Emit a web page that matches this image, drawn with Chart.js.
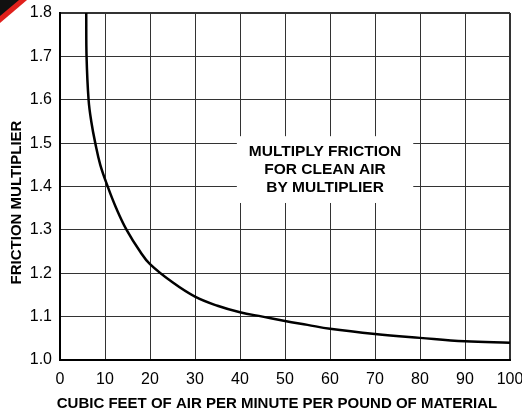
<!DOCTYPE html>
<html>
<head>
<meta charset="utf-8">
<script src="https://cdn.jsdelivr.net/npm/chart.js@4.4.1/dist/chart.umd.min.js"></script>
<style>
  html, body { margin: 0; padding: 0; background: #fff; }
  #wrap { width: 522px; height: 414px; position: relative; }
</style>
</head>
<body>
<div id="wrap"><canvas id="chart"></canvas></div>
<script>
// air volume (cfm per lb of material) vs friction multiplier
const airFlow = [5.83, 5.9, 6.35, 6.95, 7.84, 8.95, 10.6, 12.5, 14.8, 17.8, 20, 25, 30, 35, 40, 45, 50, 55, 60, 70, 80, 90, 100];
const multiplier = [1.8, 1.7, 1.6, 1.55, 1.5, 1.45, 1.4, 1.35, 1.3, 1.25, 1.221, 1.179, 1.146, 1.125, 1.11, 1.1, 1.09, 1.081, 1.072, 1.06, 1.051, 1.043, 1.04];

const xTitle = "CUBIC FEET OF AIR PER MINUTE PER POUND OF MATERIAL";
const yTitle = "FRICTION MULTIPLIER";
const noteLines = ["MULTIPLY FRICTION", "FOR CLEAN AIR", "BY MULTIPLIER"];
// note box extent in data units
const noteX = [39.3, 78.5];
const noteY = [1.362, 1.516];

const FONT = "'Liberation Sans', Arial, Helvetica, sans-serif";

const edgeWidth = (ctx, last) => (ctx.index === 0 || ctx.index === last ? 2 : 1);

const decor = {
  id: "decor",
  beforeDraw(chart) {
    const c = chart.ctx;
    c.save();
    c.fillStyle = "#fff";
    c.fillRect(0, 0, chart.width, chart.height);
    // corner tab
    c.fillStyle = "#e0201c";
    c.beginPath();
    c.moveTo(0, 0); c.lineTo(27, 0); c.lineTo(0, 23); c.closePath();
    c.fill();
    c.fillStyle = "#111";
    c.beginPath();
    c.moveTo(0, 0); c.lineTo(19, 0); c.lineTo(0, 16); c.closePath();
    c.fill();
    c.restore();
  },
  beforeDatasetsDraw(chart) {
    const { ctx: c, scales: { x, y } } = chart;
    const l = x.getPixelForValue(noteX[0]), r = x.getPixelForValue(noteX[1]);
    const t = y.getPixelForValue(noteY[1]), b = y.getPixelForValue(noteY[0]);
    c.save();
    c.fillStyle = "#fff";
    c.fillRect(l, t, r - l, b - t);
    c.fillStyle = "#000";
    c.font = "bold 15.5px " + FONT;
    c.textAlign = "center";
    c.textBaseline = "middle";
    const cx = (l + r) / 2, cy = (t + b) / 2;
    noteLines.forEach((s, i) => c.fillText(s, cx, cy + (i - 1) * 18));
    c.restore();
  },
  afterDraw(chart) {
    const { ctx: c, chartArea: a } = chart;
    c.save();
    c.fillStyle = "#000";
    c.font = "bold 15px " + FONT;
    c.textAlign = "center";
    c.textBaseline = "middle";
    c.fillText(xTitle, (a.left + a.right) / 2 - 8, 404);
    c.translate(17, (a.top + a.bottom) / 2 + 16);
    c.rotate(-Math.PI / 2);
    c.fillText(yTitle, 0, 0);
    c.restore();
  },
};

new Chart(document.getElementById("chart"), {
  type: "line",
  data: {
    datasets: [{
      data: airFlow.map((v, i) => ({ x: v, y: multiplier[i] })),
      borderColor: "#000",
      borderWidth: 2.5,
      pointRadius: 0,
      tension: 0.4,
      fill: false,
    }],
  },
  options: {
    responsive: true,
    maintainAspectRatio: false,
    animation: false,
    events: [],
    layout: { padding: { top: 13, right: 12, left: 0, bottom: 0 } },
    plugins: { legend: { display: false }, tooltip: { enabled: false } },
    scales: {
      x: {
        type: "linear",
        min: 0,
        max: 100,
        afterFit(s) { s.height = 54; s.paddingLeft = 0; s.paddingRight = 0; },
        ticks: { stepSize: 10, padding: 10, color: "#000", font: { family: FONT, size: 16 }, maxRotation: 0 },
        grid: { color: "#333", drawTicks: false, lineWidth: (ctx) => edgeWidth(ctx, 10) },
        border: { color: "#000", width: 2 },
      },
      y: {
        min: 1.0,
        max: 1.8,
        afterFit(s) { s.width = 60; s.paddingTop = 0; s.paddingBottom = 0; },
        ticks: {
          stepSize: 0.1, padding: 8, color: "#000", font: { family: FONT, size: 16 },
          callback: (v) => v.toFixed(1),
        },
        grid: { color: "#333", drawTicks: false, lineWidth: (ctx) => edgeWidth(ctx, 8) },
        border: { color: "#000", width: 2 },
      },
    },
  },
  plugins: [decor],
});
</script>
</body>
</html>
